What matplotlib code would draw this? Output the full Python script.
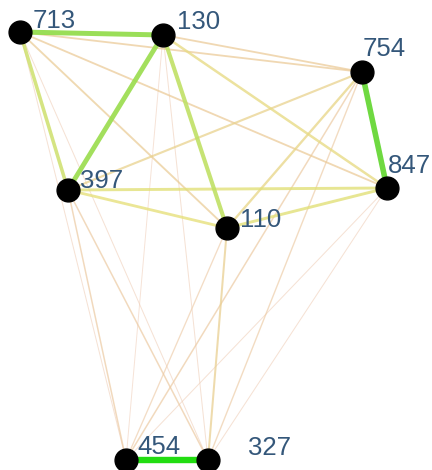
import matplotlib.pyplot as plt
import numpy as np
from matplotlib.colors import LinearSegmentedColormap

# node ids and layout positions (pixel space of the original drawing)
nodes = ['713', '130', '754', '397', '847', '110', '454', '327']
node_x = [20, 163, 362, 68, 387, 227, 126, 208]
node_y = [32, 35, 72, 190, 188, 228, 460, 460]

# edges and their weights (0 = weak, 1 = strong)
edge_src = ['454', '754', '713', '130', '130', '713', '397', '397', '110', '130',
            '754', '397', '713', '130', '713', '713', '110', '397', '397', '754',
            '754', '110', '713', '713', '130', '130', '847', '847']
edge_dst = ['327', '847', '130', '397', '110', '397', '847', '110', '847', '847',
            '110', '754', '754', '754', '847', '110', '327', '454', '327', '454',
            '327', '454', '454', '327', '454', '327', '454', '327']
edge_w = [1.0, 0.9, 0.82, 0.8, 0.7, 0.62, 0.52, 0.5, 0.52, 0.45,
          0.42, 0.38, 0.32, 0.32, 0.32, 0.33, 0.36, 0.25, 0.25, 0.25,
          0.22, 0.2, 0.1, 0.1, 0.08, 0.1, 0.1, 0.1]

# label offsets from node centre
label_off = {'713': (13, -11), '130': (14, -13), '754': (1, -23), '397': (12, -9),
             '847': (1, -22), '110': (13, -8), '454': (11, -13), '327': (40, -12)}

cmap = LinearSegmentedColormap.from_list(
    'edges', [(0, '#f3d6cc'), (0.3, '#ebc89a'), (0.5, '#e6e07c'),
              (0.75, '#b4e05a'), (0.9, '#6ad83a'), (1.0, '#22dd11')])

pos = {n: (x, y) for n, x, y in zip(nodes, node_x, node_y)}

fig = plt.figure(figsize=(4.32, 4.70), dpi=100)
ax = fig.add_axes([0, 0, 1, 1])

# weak edges first so the strong ones sit on top
order = np.argsort(edge_w)
for i in order:
    w = edge_w[i]
    x0, y0 = pos[edge_src[i]]
    x1, y1 = pos[edge_dst[i]]
    ax.plot([x0, x1], [y0, y1], color=cmap(w), lw=0.6 + 4.0 * w ** 1.5,
            alpha=0.6 + 0.4 * w, solid_capstyle='butt', zorder=1)

ax.scatter(node_x, node_y, s=270, color='black', zorder=3)

for n in nodes:
    dx, dy = label_off[n]
    ax.text(pos[n][0] + dx, pos[n][1] + dy, n, fontsize=18.5, color='#34577a',
            family='Liberation Sans', ha='left', va='center', zorder=4)

ax.set_xlim(0, 432)
ax.set_ylim(470, 0)
ax.axis('off')

plt.savefig('out.png', dpi=100)
